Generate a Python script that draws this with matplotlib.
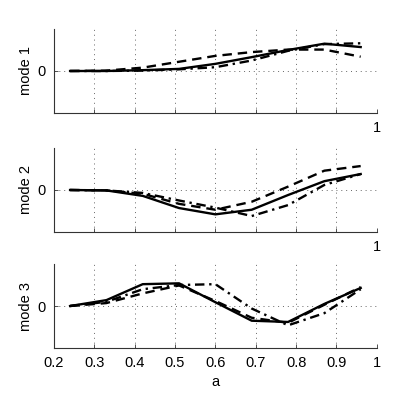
import matplotlib
matplotlib.use('Agg')
import matplotlib.pyplot as plt

plt.rcParams['font.family'] = ['Liberation Sans', 'DejaVu Sans']
plt.rcParams['font.size'] = 10.5

# sample points of a
a = [0.24, 0.33, 0.42, 0.51, 0.60, 0.69, 0.78, 0.87, 0.96]

# mode 1
m1_solid = [0.0, 0.0, 0.02, 0.05, 0.17, 0.33, 0.50, 0.65, 0.57]
m1_dash = [0.0, 0.01, 0.08, 0.22, 0.36, 0.45, 0.51, 0.51, 0.34]
m1_dashdot = [0.0, 0.0, 0.01, 0.04, 0.09, 0.25, 0.48, 0.64, 0.66]

# mode 2
m2_solid = [0.0, -0.01, -0.14, -0.43, -0.58, -0.47, -0.12, 0.21, 0.38]
m2_dash = [0.0, -0.01, -0.09, -0.33, -0.47, -0.28, 0.08, 0.46, 0.57]
m2_dashdot = [0.0, -0.01, -0.07, -0.25, -0.42, -0.62, -0.36, 0.12, 0.38]

# mode 3
m3_solid = [0.0, 0.14, 0.52, 0.54, 0.09, -0.35, -0.38, 0.05, 0.43]
m3_dash = [0.0, 0.07, 0.30, 0.49, 0.12, -0.28, -0.40, 0.03, 0.45]
m3_dashdot = [0.0, 0.10, 0.40, 0.50, 0.52, -0.06, -0.46, -0.17, 0.40]

labels = ['mode 1', 'mode 2', 'mode 3']
modes = [(m1_solid, m1_dash, m1_dashdot),
         (m2_solid, m2_dash, m2_dashdot),
         (m3_solid, m3_dash, m3_dashdot)]

xticks = [0.2, 0.3, 0.4, 0.5, 0.6, 0.7, 0.8, 0.9, 1.0]
xticklabels = ['0.2', '0.3', '0.4', '0.5', '0.6', '0.7', '0.8', '0.9', '1']

fig = plt.figure(figsize=(4.15, 3.93), dpi=100)
bottoms = [0.7125, 0.4097, 0.1145]
lw = 1.7

for i, (bot, lab, (s, d, dd)) in enumerate(zip(bottoms, labels, modes)):
    ax = fig.add_axes([0.130, bot, 0.778, 0.2137])
    ax.plot(a, s, color='black', linestyle='-', linewidth=lw)
    ax.plot(a, d, color='black', linestyle=(0, (4, 2.5)), linewidth=lw)
    ax.plot(a, dd, color='black', linestyle=(0, (4, 2, 1, 2)), linewidth=lw)
    ax.set_xlim(0.2, 1.0)
    ax.set_ylim(-1, 1)
    ax.set_xticks(xticks)
    if i < 2:
        ax.set_xticklabels([''] * 8 + ['1'])
    else:
        ax.set_xticklabels(xticklabels)
        ax.set_xlabel('a', labelpad=3)
    ax.set_yticks([0])
    ax.set_yticklabels(['0'])
    ax.set_ylabel(lab, labelpad=3)
    ax.grid(True, linestyle=(0, (1, 4)), color='#666666', linewidth=0.7)
    for side in ['top', 'right']:
        ax.spines[side].set_visible(False)
    for side in ['left', 'bottom']:
        ax.spines[side].set_color('#333333')
        ax.spines[side].set_linewidth(0.8)
    ax.tick_params(direction='in', length=3, width=0.6, color='#333333', pad=6)

fig.savefig('out.png', dpi=100)
